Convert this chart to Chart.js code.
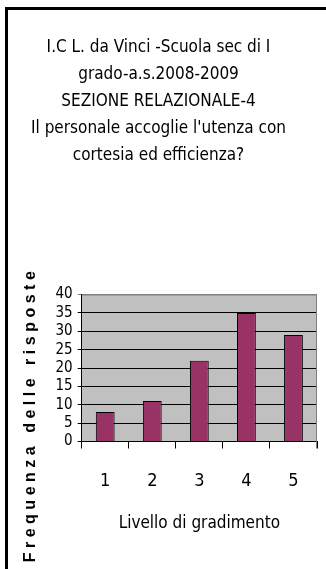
<!DOCTYPE html>
<html>
<head>
<meta charset="utf-8">
<script src="https://cdn.jsdelivr.net/npm/chart.js@4"></script>
<style>
  html, body { margin: 0; padding: 0; background: #fff; overflow: hidden; }
  #wrap { position: relative; width: 326px; height: 569px; overflow: hidden; }
  #frame { position: absolute; left: 5px; top: 7px; width: 400px; height: 700px;
           border-left: 3px solid #000; border-top: 3px solid #000; }
  #myChart { position: absolute; left: 0; top: 0; }
</style>
</head>
<body>
<div id="wrap">
  <div id="frame"></div>
  <canvas id="myChart" width="326" height="829"></canvas>
</div>
<script>
var narrow = "'Liberation Sans Narrow', 'Arial Narrow', 'DejaVu Sans Condensed', sans-serif";

var titleLines = [
  'I.C L. da Vinci -Scuola sec di I',
  'grado-a.s.2008-2009',
  'SEZIONE RELAZIONALE-4',
  "Il personale accoglie l'utenza con",
  'cortesia ed efficienza?'
];
var levels = ['1', '2', '3', '4', '5'];
var answers = [8, 11, 22, 35, 29];
var yTicks = [0, 5, 10, 15, 20, 25, 30, 35, 40];
var xTitle = 'Livello di gradimento';
var yTitle = 'Frequenza delle risposte';

// grey plot background + grey top/right edge, like the Excel plot area
var plotArea = {
  id: 'plotArea',
  beforeDraw: function (chart) {
    var a = chart.chartArea, ctx = chart.ctx;
    ctx.save();
    ctx.fillStyle = '#c0c0c0';
    ctx.fillRect(a.left, a.top, a.right - a.left, a.bottom - a.top);
    ctx.restore();
  },
  afterDatasetsDraw: function (chart) {
    var a = chart.chartArea, ctx = chart.ctx;
    ctx.save();
    ctx.strokeStyle = '#808080';
    ctx.lineWidth = 1;
    ctx.beginPath();
    ctx.moveTo(a.left, a.top + 0.5);
    ctx.lineTo(a.right - 0.5, a.top + 0.5);
    ctx.lineTo(a.right - 0.5, a.bottom + 7);
    ctx.stroke();
    ctx.restore();
  }
};

// the rotated axis label is spread out in the original
var spacedTitle = {
  id: 'spacedTitle',
  afterLayout: function (chart) {
    chart.boxes.forEach(function (b) {
      if (b.options && b.options.text === yTitle && !b._spaced) {
        var draw = b.draw.bind(b);
        b.draw = function (area) {
          chart.ctx.save();
          chart.ctx.letterSpacing = '4.5px';
          draw(area);
          chart.ctx.restore();
        };
        b._spaced = true;
      }
    });
  }
};

var ctx = document.getElementById('myChart').getContext('2d');
var myChart = new Chart(ctx, {
  type: 'bar',
  data: {
    labels: levels,
    datasets: [{
      data: answers,
      backgroundColor: '#993366',
      borderColor: '#000000',
      borderWidth: 1,
      categoryPercentage: 1,
      barPercentage: 0.4
    }]
  },
  plugins: [plotArea, spacedTitle],
  options: {
    responsive: false,
    animation: false,
    layout: { padding: { left: 0, right: 9, top: 0, bottom: 0 } },
    plugins: {
      legend: { display: false },
      tooltip: { enabled: false },
      title: {
        display: true,
        text: titleLines,
        color: '#000',
        font: { family: narrow, size: 17, weight: 'normal', lineHeight: 27 / 17 },
        padding: { top: 34.5, bottom: 125 }
      },
      subtitle: {
        display: true,
        position: 'left',
        text: yTitle,
        color: '#000',
        font: { family: "'Liberation Sans', Arial, sans-serif", size: 16, weight: 'bold', lineHeight: 1.2 },
        padding: { top: 21, bottom: 0 }
      }
    },
    scales: {
      x: {
        grid: { offset: true, drawOnChartArea: false, drawTicks: true, tickLength: 7, color: '#000' },
        border: { color: '#000', width: 1 },
        ticks: { color: '#000', padding: 22, font: { family: narrow, size: 18 } },
        title: {
          display: true,
          text: xTitle,
          color: '#000',
          font: { family: narrow, size: 17 },
          padding: { top: 0, bottom: 295 }
        },
        afterFit: function (scale) { scale.height = 387.5; }
      },
      y: {
        min: 0,
        max: 40,
        afterBuildTicks: function (scale) {
          scale.ticks = yTicks.map(function (v) { return { value: v }; });
        },
        grid: {
          color: function (c) { return c.tick && c.tick.value === 40 ? '#808080' : '#000'; },
          tickLength: 4,
          lineWidth: 1
        },
        border: { color: '#000', width: 1 },
        ticks: { color: '#000', padding: 5, autoSkip: false, font: { family: narrow, size: 15 } },
        afterFit: function (scale) { scale.width = 41.5; }
      }
    }
  }
});
</script>
</body>
</html>
